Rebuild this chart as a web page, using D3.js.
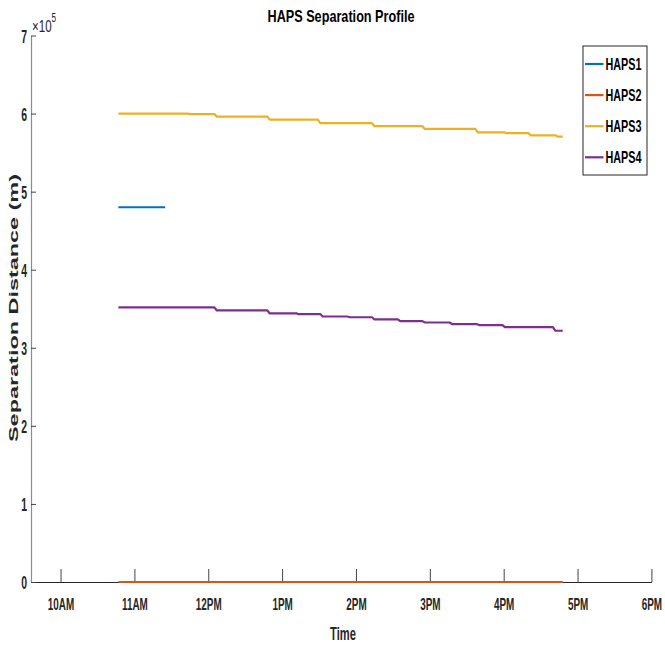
<!DOCTYPE html>
<html>
<head>
<meta charset="utf-8">
<script src="https://cdn.jsdelivr.net/npm/d3@7"></script>
<style>
  html, body { margin: 0; padding: 0; background: #fff; }
  svg { display: block; font-family: "Liberation Sans", Arial, Helvetica, sans-serif; }
</style>
</head>
<body>
<svg id="chart" width="665" height="648"></svg>
<script>
// ---------------- data ----------------
const seriesNames = ["HAPS1", "HAPS2", "HAPS3", "HAPS4"];
const seriesColors = ["#0072BD", "#D95319", "#EDB120", "#7E2F8E"];

const haps1Times = ["10:47", "11:25"];
const haps1Values = [480000, 480000];

const haps2Times = ["10:47", "16:48"];
const haps2Values = [0, 0];

const haps3Times = ["10:47", "11:43", "11:45", "12:05", "12:07", "12:48", "12:50", "13:29", "13:31",
  "14:13", "14:15", "14:54", "14:56", "15:37", "15:39", "16:01", "16:02", "16:20", "16:22", "16:42", "16:44", "16:48"];
const haps3Values = [600000, 600000, 599300, 599300, 596000, 596000, 592300, 592300, 587700,
  587700, 583800, 583800, 580300, 580300, 575800, 575800, 574900, 574900, 572200, 572200, 570500, 570500];

const haps4Times = ["10:47", "12:05", "12:07", "12:48", "12:50", "13:12", "13:13", "13:31", "13:33",
  "13:53", "13:55", "14:13", "14:15", "14:34", "14:36", "14:54", "14:56", "15:16", "15:18", "15:38", "15:40",
  "15:59", "16:01", "16:40", "16:42", "16:48"];
const haps4Values = [351700, 351700, 347800, 347800, 344000, 344000, 343200, 343200, 340100,
  340100, 339100, 339100, 336500, 336500, 334200, 334200, 332400, 332400, 330400, 330400, 329100,
  329100, 326500, 326500, 321800, 321800];

const xTickTimes = ["10:00", "11:00", "12:00", "13:00", "14:00", "15:00", "16:00", "17:00", "18:00"];
const xTickLabels = ["10AM", "11AM", "12PM", "1PM", "2PM", "3PM", "4PM", "5PM", "6PM"];
const xDomainTimes = ["09:36", "18:00"];
const yTickValues = [0, 100000, 200000, 300000, 400000, 500000, 600000, 700000];
const yTickLabels = ["0", "1", "2", "3", "4", "5", "6", "7"];

const titleText = "HAPS Separation Profile";
const xLabelText = "Time";
const yLabelText = "Separation Distance (m)";

// ---------------- setup ----------------
const parseT = d3.timeParse("%Y-%m-%d %H:%M");
const T = s => parseT("2020-01-01 " + s);

const svg = d3.select("#chart");
const pLeft = 31, pRight = 651.4, pTop = 35.5, pBottom = 582;

const x = d3.scaleTime().domain(xDomainTimes.map(T)).range([pLeft, pRight]);
const y = d3.scaleLinear().domain([0, 700000]).range([pBottom, pTop]);

// ---------------- axes ----------------
const xAxis = d3.axisBottom(x)
  .tickValues(xTickTimes.map(T))
  .tickFormat((d, i) => xTickLabels[i])
  .tickSize(-13)
  .tickSizeOuter(0)
  .tickPadding(0);

const gx = svg.append("g").attr("transform", `translate(0,${pBottom})`).call(xAxis);
gx.select(".domain").attr("stroke", "#262626").attr("stroke-width", 1);
gx.selectAll(".tick line").attr("stroke", "#444").attr("stroke-width", 1);
gx.selectAll(".tick text")
  .attr("y", 28).attr("dy", null)
  .attr("fill", "#262626")
  .attr("font-size", 16.5)
  .attr("font-weight", "bold")
  .attr("transform", "scale(0.6,1)");

const yAxis = d3.axisLeft(y)
  .tickValues(yTickValues)
  .tickFormat((d, i) => yTickLabels[i])
  .tickSize(-5)
  .tickSizeOuter(0)
  .tickPadding(0);

const gy = svg.append("g").attr("transform", `translate(${pLeft},0)`).call(yAxis);
gy.select(".domain").attr("stroke", "#8c8c8c").attr("stroke-width", 1.2);
gy.selectAll(".tick line").attr("stroke", "#444").attr("stroke-width", 1);
gy.selectAll(".tick text")
  .attr("x", -4 / 0.58).attr("dy", "0.37em")
  .attr("fill", "#262626")
  .attr("font-size", 18)
  .attr("font-weight", "bold")
  .attr("transform", "scale(0.58,1)");

// exponent label
const ex = svg.append("text")
  .attr("transform", `translate(32,32) scale(0.68,1)`)
  .attr("fill", "#262626")
  .attr("font-size", 17);
ex.append("tspan").text("×10");
ex.append("tspan").attr("dy", -10).attr("font-size", 12).text("5");

// ---------------- lines ----------------
const line = d3.line().x(d => x(d[0])).y(d => y(d[1]));
const series = [
  [haps1Times, haps1Values],
  [haps2Times, haps2Values],
  [haps3Times, haps3Values],
  [haps4Times, haps4Values]
];
series.forEach(([ts, vs], i) => {
  const pts = ts.map((t, j) => [T(t), vs[j]]);
  svg.append("path")
    .datum(pts)
    .attr("fill", "none")
    .attr("stroke", seriesColors[i])
    .attr("stroke-width", 2.2)
    .attr("stroke-linejoin", "round")
    .attr("d", line);
});

// ---------------- labels ----------------
svg.append("text")
  .attr("x", 341).attr("y", 22)
  .attr("text-anchor", "middle")
  .attr("font-size", 16.5).attr("font-weight", "bold")
  .attr("fill", "#000")
  .attr("textLength", 147).attr("lengthAdjust", "spacingAndGlyphs")
  .text(titleText);

svg.append("text")
  .attr("transform", "translate(343,640) scale(0.62,1)")
  .attr("text-anchor", "middle")
  .attr("font-size", 18)
  .attr("font-weight", "bold")
  .attr("fill", "#262626")
  .text(xLabelText);

svg.append("text")
  .attr("transform", "translate(18,308) rotate(-90)")
  .attr("text-anchor", "middle")
  .attr("font-size", 13.5).attr("font-weight", "bold")
  .attr("fill", "#262626")
  .attr("textLength", 268).attr("lengthAdjust", "spacingAndGlyphs")
  .text(yLabelText);

// ---------------- legend ----------------
const lg = svg.append("g");
lg.append("rect")
  .attr("x", 583).attr("y", 46).attr("width", 64).attr("height", 129)
  .attr("fill", "#fff").attr("stroke", "#262626").attr("stroke-width", 1);
seriesNames.forEach((name, i) => {
  const cy = 64 + i * 31.1;
  lg.append("line")
    .attr("x1", 585).attr("x2", 603.5).attr("y1", cy).attr("y2", cy)
    .attr("stroke", seriesColors[i]).attr("stroke-width", 2.2);
  lg.append("text")
    .attr("x", 605.5).attr("y", cy + 6)
    .attr("font-size", 16.5).attr("font-weight", "bold")
    .attr("fill", "#000")
    .attr("textLength", 36).attr("lengthAdjust", "spacingAndGlyphs")
    .text(name);
});
</script>
</body>
</html>
